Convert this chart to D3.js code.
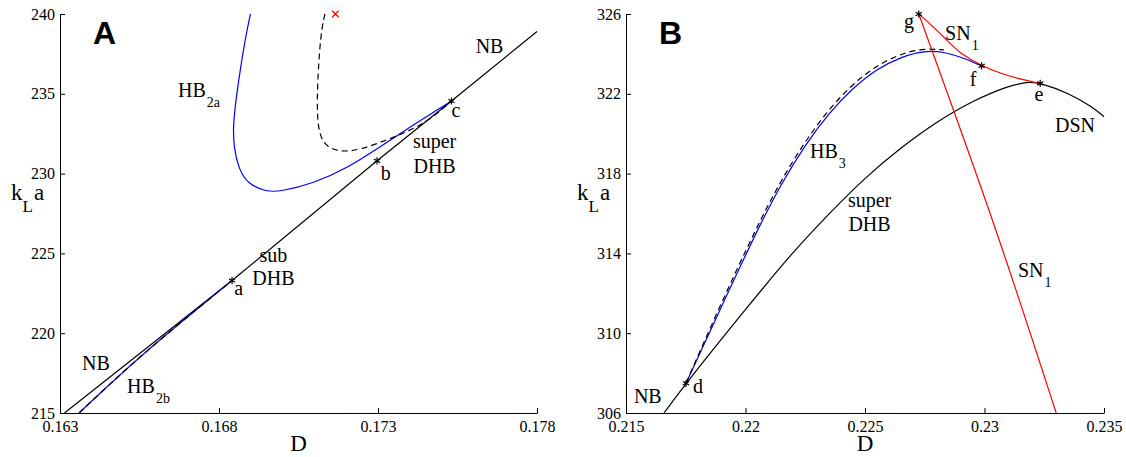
<!DOCTYPE html>
<html>
  <head>
    <title>Two-parameter bifurcation diagram</title>
    <script type="text/javascript" src="https://cdn.jsdelivr.net/npm/d3@7"></script>
    <style type="text/css">

body {
  margin: 0;
  background: #fff;
}

svg text {
  font-family: "Liberation Serif", "Times New Roman", Times, "DejaVu Serif", serif;
  fill: #000;
}

svg .tick text {
  font-size: 16px;
}

svg .lbl {
  font-size: 20px;
}

svg .sub {
  font-size: 14px;
}

svg text.letter {
  font-family: "Liberation Sans", Arial, Helvetica, sans-serif;
  font-weight: bold;
  font-size: 32px;
}

    </style>
  </head>
  <body>
    <script type="text/javascript">

var serif = '"Liberation Serif", "Times New Roman", Times, "DejaVu Serif", serif';

// panel A: D vs kLa near the lower branch
var ticksAx = [0.163, 0.168, 0.173, 0.178],
    ticksAy = [215, 220, 225, 230, 235, 240];

var nbA = [[0.16314, 215], [0.16841, 223.3], [0.17297, 230.8], [0.17531, 234.55], [0.178, 238.9]];

var hb2a = [[0.16899, 240], [0.16886, 238.81], [0.16868, 236.68], [0.16853, 234.61],
            [0.16844, 232.9], [0.16847, 231.6], [0.16862, 230.3], [0.16890, 229.35],
            [0.16950, 228.86], [0.16992, 228.87], [0.17097, 229.39], [0.17202, 230.33],
            [0.17307, 231.69], [0.17411, 233.05], [0.17495, 234.09], [0.17531, 234.55]];

var hb2aDash = [[0.17133, 240], [0.17124, 239.19], [0.17116, 237.74], [0.17110, 235.68],
                [0.17108, 233.55], [0.17118, 232.29], [0.17140, 231.67], [0.17181, 231.35],
                [0.17243, 231.48], [0.17328, 232.11], [0.17391, 232.61], [0.17464, 233.36],
                [0.17531, 234.55]];

var hb2b = [[0.16360, 215], [0.16563, 218.7], [0.16841, 223.3]];

var ptsA = [[0.16841, 223.3], [0.17297, 230.8], [0.17531, 234.55]],
    endA = [[0.17166, 240]];

// panel B: upper branch
var ticksBx = [0.215, 0.22, 0.225, 0.23, 0.235],
    ticksBy = [306, 310, 314, 318, 322, 326];

var dsn = [[0.21659, 306], [0.21751, 307.49], [0.2200, 311.2], [0.2220, 314.1],
           [0.2235, 316.0], [0.2250, 317.8], [0.2265, 319.3], [0.2280, 320.6],
           [0.2295, 321.65], [0.2310, 322.4], [0.2318, 322.6], [0.23233, 322.55],
           [0.2335, 322.05], [0.2345, 321.35], [0.235, 320.85]];

var hb3 = [[0.21751, 307.49], [0.2190, 311.35], [0.2205, 315.2], [0.2215, 317.5],
           [0.2225, 319.45], [0.2235, 321.05], [0.2245, 322.3], [0.2255, 323.25],
           [0.2265, 323.85], [0.2275, 324.17], [0.2283, 324.1], [0.2290, 323.85],
           [0.22988, 323.4]];

var hb3Dash = [[0.21751, 307.49], [0.21892, 311.35], [0.22042, 315.2], [0.22141, 317.5],
               [0.2224, 319.45], [0.2234, 321.1], [0.2244, 322.4], [0.2254, 323.35],
               [0.2264, 323.97], [0.2274, 324.28], [0.2283, 324.2]];

var sn1Cusp = [[0.22725, 326], [0.22786, 325.36], [0.22842, 324.70], [0.22897, 324.03],
               [0.22988, 323.4], [0.23065, 323.03], [0.23149, 322.73], [0.23233, 322.52]];

var sn1Line = [[0.22725, 326], [0.23035, 315.6], [0.2330, 306]];

var ptsB = [[0.21751, 307.49], [0.23233, 322.52], [0.22988, 323.4], [0.22725, 326]];

// annotations: text, subscript, D, kLa, anchor
var notesA = [
  ["NB", "", 0.17607, 237.56, "start"],
  ["HB", "2a", 0.16671, 234.8, "start"],
  ["c", "", 0.17545, 233.55, "middle"],
  ["super", "", 0.17478, 231.6, "middle"],
  ["DHB", "", 0.17478, 230.04, "middle"],
  ["b", "", 0.17324, 229.6, "middle"],
  ["a", "", 0.16862, 222.39, "middle"],
  ["sub", "", 0.16971, 224.46, "middle"],
  ["DHB", "", 0.16971, 223.02, "middle"],
  ["NB", "", 0.16369, 217.69, "start"],
  ["HB", "2b", 0.16511, 216.25, "start"]
];

var notesB = [
  ["g", "", 0.22705, 325.3, "end"],
  ["SN", "1", 0.22835, 324.7, "start"],
  ["f", "", 0.22952, 322.39, "middle"],
  ["e", "", 0.23228, 321.64, "middle"],
  ["DSN", "", 0.23295, 320.09, "start"],
  ["HB", "3", 0.2227, 318.78, "start"],
  ["super", "", 0.22519, 316.33, "middle"],
  ["DHB", "", 0.22519, 315.12, "middle"],
  ["SN", "1", 0.2314, 312.82, "start"],
  ["NB", "", 0.21533, 306.5, "start"],
  ["d", "", 0.2178, 307.0, "start"]
];

var w = 1126,
    h = 457;

var svg = d3.select("body")
  .append("svg")
    .attr("width", w)
    .attr("height", h)
    .attr("font-family", serif);

function panel(xd, yd, x0, x1, tx, ty, letter) {
  var x = d3.scaleLinear().domain(xd).range([x0, x1]),
      y = d3.scaleLinear().domain(yd).range([413, 14]),
      g = svg.append("g");

  g.append("g")
      .attr("transform", "translate(0,413)")
      .call(d3.axisBottom(x).tickValues(tx).tickFormat(String)
        .tickSizeInner(-5).tickSizeOuter(0).tickPadding(8));

  g.append("g")
      .attr("transform", "translate(" + x0 + ",0)")
      .call(d3.axisLeft(y).tickValues(ty).tickFormat(String)
        .tickSizeInner(-5).tickSizeOuter(0).tickPadding(5));

  g.selectAll("g").attr("font-family", null).attr("font-size", null);
  g.selectAll(".domain, .tick line").attr("stroke", "#000");

  g.append("text")
      .attr("x", (x0 + x1) / 2)
      .attr("y", 451)
      .attr("text-anchor", "middle")
      .style("font-size", "23px")
      .text("D");

  var kl = g.append("text")
      .attr("x", x0 - 49)
      .attr("y", 200)
      .style("font-size", "23px");
  kl.append("tspan").text("k");
  kl.append("tspan").attr("dy", 12).style("font-size", "17px").text("L");
  kl.append("tspan").attr("dy", -12).attr("dx", 1).text("a");

  g.append("text")
      .attr("class", "letter")
      .attr("x", x0 + 33)
      .attr("y", 44)
      .text(letter);

  return {g: g, x: x, y: y};
}

function curve(p, data, color, dash, kind) {
  var line = d3.line()
      .x(function(d) { return p.x(d[0]); })
      .y(function(d) { return p.y(d[1]); })
      .curve(kind || d3.curveBasis);
  p.g.append("path")
      .attr("d", line(data))
      .attr("fill", "none")
      .attr("stroke", color)
      .attr("stroke-width", 1.2)
      .attr("stroke-dasharray", dash ? "6,4" : null);
}

function stars(p, data, type, color, size) {
  p.g.selectAll(null)
      .data(data)
    .enter().append("path")
      .attr("transform", function(d) { return "translate(" + p.x(d[0]) + "," + p.y(d[1]) + ")"; })
      .attr("d", d3.symbol(type, size))
      .attr("fill", "none")
      .attr("stroke", color)
      .attr("stroke-width", 1.2);
}

function notes(p, data) {
  var t = p.g.selectAll(null)
      .data(data)
    .enter().append("text")
      .attr("class", "lbl")
      .attr("x", function(d) { return p.x(d[2]); })
      .attr("y", function(d) { return p.y(d[3]); })
      .attr("text-anchor", function(d) { return d[4]; });
  t.append("tspan").text(function(d) { return d[0]; });
  t.filter(function(d) { return d[1]; })
    .append("tspan")
      .attr("class", "sub")
      .attr("dy", 10)
      .attr("dx", 1)
      .text(function(d) { return d[1]; });
}

var A = panel([0.163, 0.178], [215, 240], 60, 537, ticksAx, ticksAy, "A");

curve(A, nbA, "#000", false, d3.curveLinear);
curve(A, hb2a, "#0000ff", false);
curve(A, hb2aDash, "#000", true);
curve(A, hb2b, "#0000ff", false, d3.curveNatural);
curve(A, hb2b, "#000", true, d3.curveNatural);
stars(A, ptsA, d3.symbolAsterisk, "#000", 36);
stars(A, endA, d3.symbolTimes, "#ff0000", 30);
notes(A, notesA);

var B = panel([0.215, 0.235], [306, 326], 626, 1104, ticksBx, ticksBy, "B");

curve(B, dsn, "#000", false);
curve(B, hb3, "#0000ff", false);
curve(B, hb3Dash, "#000", true);
curve(B, sn1Line, "#ff0000", false, d3.curveNatural);
curve(B, sn1Cusp, "#ff0000", false);
stars(B, ptsB, d3.symbolAsterisk, "#000", 36);
notes(B, notesB);

svg.selectAll("text:not(.letter)").style("font-family", serif);

    </script>
  </body>
</html>
